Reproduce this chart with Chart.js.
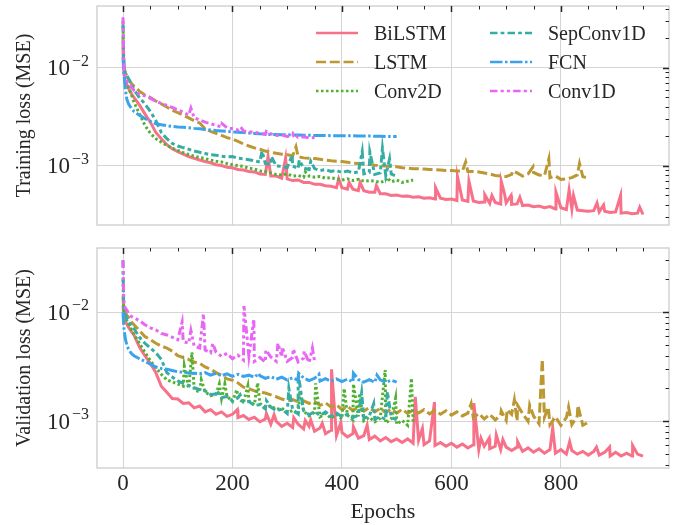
<!DOCTYPE html>
<html>
<head>
<meta charset="utf-8">
<script src="https://cdn.jsdelivr.net/npm/chart.js@4.4.1/dist/chart.umd.min.js"></script>
<style>
  body { margin: 0; background: #fff; }
  #wrap { position: relative; width: 683px; height: 525px; }
  #trainChart { position: absolute; left: 0; top: 0; }
  #valChart { position: absolute; left: 0; top: 237px; }
</style>
</head>
<body>
<div id="wrap">
  <canvas id="trainChart" width="683" height="237"></canvas>
  <canvas id="valChart" width="683" height="288"></canvas>
</div>
<script>
// loss curves per model, values below are in units of 1e-4
const UNIT = 1e-4;
const models = ['BiLSTM', 'LSTM', 'Conv2D', 'SepConv1D', 'FCN', 'Conv1D'];

// epochs at which the loss was logged: dense at the start, then every 10
const epochs = [0, 1, 2, 4, 7, 10, 15, 20, 30, 40];
for (let e = 50; e <= 950; e += 10) epochs.push(e);

const xTicks = [0, 200, 400, 600, 800];
const yTickPowers = [-2, -3];

// ---- training loss ----
const trainBiLSTM = [
  160, 110, 85, 75, 68, 62, 55, 50, 42, 34,
  28, 22, 19, 16.5, 15, 14, 13.2, 12.5, 12, 11.5,
  11.1, 10.8, 10.3, 10.1, 9.7, 9.6, 9.2, 9.1, 8.8, 8.7,
  8.3, 8.2, 7.9, 7.9, 7.5, 7.4, 7.1, 7.2, 6.8, 6.8,
  6.5, 6.5, 6.3, 6.2, 6.0, 6.0, 5.8, 5.8, 5.6, 5.6,
  5.4, 5.4, 5.2, 5.2, 5.0, 5.05, 4.9, 4.95, 4.8, 4.85,
  4.7, 4.75, 4.6, 4.7, 4.55, 4.6, 4.45, 4.5, 4.35, 4.4,
  4.25, 4.3, 4.15, 4.25, 4.1, 4.2, 4.05, 4.1, 3.95, 4.0,
  3.85, 3.9, 3.75, 3.85, 3.65, 3.75, 3.6, 3.65, 3.55, 3.5,
  3.45, 3.5, 3.4, 3.45, 3.35, 3.4, 3.3, 3.35, 3.25, 3.3, 3.2
];
const trainBiLSTMSpikes = [[265, 12.5], [297, 12], [394, 7.4], [413, 6.8], [433, 6.8], [463, 6.3],
  [571, 6.0], [611, 7.8], [632, 7.0], [661, 5.1], [674, 5.0], [691, 7.0], [697, 5.2], [709, 5.0],
  [725, 4.8], [791, 5.4], [815, 5.7], [823, 5.0], [866, 4.2], [878, 4.0], [909, 5.0], [944, 3.8]];

const trainLSTM = [
  200, 120, 100, 90, 84, 78, 70, 65, 58, 53,
  50, 46, 43, 40, 37, 35, 33, 31, 29, 27.5,
  24, 22.5, 21.5, 20.5, 19.5, 18.8, 17.8, 16.8, 16.0, 15.3,
  14.8, 14.2, 13.8, 13.5, 13.2, 13.0, 12.7, 12.4, 12.1, 12.0,
  11.9, 11.7, 11.5, 11.3, 11.2, 11.1, 10.9, 10.7, 10.6, 10.5,
  10.4, 10.2, 10.1, 10.0, 9.9, 9.8, 9.6, 9.5, 9.4, 9.4,
  9.3, 9.2, 9.2, 9.1, 9.0, 9.0, 8.9, 8.9, 8.8, 8.8,
  8.7, 8.5, 8.3, 8.0, 7.9, 7.8, 8.2, 8.5, 7.9, 8.3,
  8.6, 8.1, 8.0, 7.6, 7.9, 7.3, 7.4, 7.6, 8.1, 7.8,
  7.5
];
const trainLSTMSpikes = [[316, 15.7], [626, 11.0], [712, 8.9], [749, 9.8], [778, 11.8], [834, 10.6]];

const trainConv2D = [
  300, 130, 92, 80, 70, 63, 54, 45, 34, 26,
  21.5, 19, 17.5, 16.2, 15.2, 14.4, 13.7, 13.1, 12.6, 12.2,
  11.9, 11.5, 11.2, 11.0, 10.6, 10.3, 10.1, 9.9, 9.5, 9.3,
  8.9, 8.8, 8.5, 8.2, 8.1, 8.3, 7.9, 8.0, 7.7, 7.9,
  7.7, 7.8, 7.5, 7.6, 7.4, 7.2, 7.4, 7.1, 7.3, 7.0,
  7.1, 7.0, 6.8, 7.1, 6.9, 7.2, 6.8, 7.0, 7.2
];
const trainConv2DSpikes = [[333, 8.7], [482, 7.6]];

const trainSepConv1D = [
  280, 140, 100, 90, 84, 78, 68, 60, 50, 43,
  36, 29, 22, 19, 17, 16, 15.4, 14.8, 14.2, 13.8,
  13.4, 13.0, 12.9, 12.6, 12.4, 12.5, 12.0, 11.8, 11.6, 11.3,
  11.0, 10.6, 10.4, 10.0, 9.9, 9.6, 10.0, 9.4, 9.5, 9.2,
  9.4, 9.0, 9.2, 8.8, 9.0, 8.6, 8.9, 8.5, 8.7, 8.3,
  8.6, 8.2, 8.5, 8.0, 8.3, 7.8
];
const trainSepConv1DSpikes = [[254, 14.2], [271, 12.5], [309, 12.9], [322, 11.5], [343, 11.2],
  [437, 14.0], [451, 13.8], [474, 15.1], [487, 11.8]];

const trainFCN = [
  130, 100, 85, 62, 48, 43, 39, 36, 33, 30.5,
  28.5, 27, 26.3, 25.8, 25.3, 25.0, 24.8, 24.5, 24.2, 24.0,
  23.6, 23.3, 23.0, 22.8, 22.5, 22.3, 22.1, 21.9, 21.7, 21.5,
  21.3, 21.2, 21.0, 20.9, 20.8, 20.8, 20.7, 20.7, 20.6, 20.6,
  20.5, 20.5, 20.5, 20.4, 20.4, 20.3, 20.3, 20.3, 20.2, 20.2,
  20.2, 20.1, 20.1, 20.0, 20.0, 20.0
];
const trainFCNSpikes = [];

const trainConv1D = [
  330, 140, 95, 82, 74, 69, 64, 59, 54, 52,
  49, 46, 43.5, 41.5, 39.5, 37.5, 35.5, 33, 31, 29.5,
  28, 27, 26, 25, 24.5, 24, 23.3, 22.8, 22.4, 22.0,
  21.6, 21.0, 21.3, 20.5, 20.8, 20.0, 20.3, 19.6, 19.9, 19.3,
  19.5
];
const trainConv1DSpikes = [[124, 39], [181, 27], [215, 25], [262, 22.5], [311, 21.5]];

// ---- validation loss ----
const valBiLSTM = [
  115, 100, 92, 84, 78, 73, 67, 62, 48, 40,
  34, 28, 21, 18.5, 16.2, 16.0, 14.6, 14.8, 13.3, 13.8,
  12.2, 12.8, 11.6, 12.2, 11.1, 11.6, 10.8, 11.3, 10.4, 10.9,
  9.9, 10.5, 9.4, 10.0, 9.0, 9.6, 8.8, 9.4, 8.5, 9.0,
  8.1, 8.7, 7.7, 8.3, 7.4, 7.9, 7.2, 7.7, 7.0, 7.4,
  6.8, 7.3, 6.6, 7.1, 6.5, 6.9, 6.4, 6.9, 6.3, 6.7,
  6.1, 6.6, 6.0, 6.4, 5.9, 6.3, 5.8, 6.2, 5.7, 6.1,
  5.5, 5.9, 5.6, 5.9, 5.5, 5.8, 5.4, 5.8, 5.3, 5.7,
  5.2, 5.6, 5.1, 5.5, 5.1, 5.5, 5.0, 5.4, 5.0, 5.3,
  4.9, 5.3, 4.9, 5.2, 4.8, 5.2, 4.8, 5.1, 4.8, 5.0, 4.8
];
const valBiLSTMSpikes = [[209, 12.8], [262, 11.8], [276, 11.5], [312, 10.8], [333, 10.2], [343, 10.3],
  [364, 9.6], [381, 30], [398, 9.8], [421, 8.9], [446, 9.2], [534, 16.8], [547, 8.6], [569, 15],
  [641, 14.7], [654, 7.0], [669, 7.0], [682, 7.5], [694, 6.8], [721, 6.5], [785, 8.7], [816, 6.5],
  [865, 5.8], [889, 5.8], [931, 6.0]];

const valLSTM = [
  140, 115, 105, 98, 94, 90, 82, 77, 68, 60,
  56, 52, 49, 47, 44, 40, 38.5, 37, 35, 34,
  31.5, 30, 28, 26.5, 24.5, 23.8, 22.5, 20.6, 20.0, 19.0,
  18.5, 18.2, 17.5, 16.8, 16.0, 15.5, 15.8, 15.1, 15.4, 14.6,
  15.2, 14.0, 14.8, 13.5, 14.2, 12.8, 13.7, 12.6, 13.5, 12.4,
  13.4, 12.2, 13.2, 12.0, 13.0, 11.9, 12.9, 11.8, 12.7, 11.9,
  12.8, 11.7, 12.6, 11.6, 12.5, 11.4, 12.2, 11.2, 11.9, 10.8,
  11.8, 10.5, 11.6, 10.3, 11.4, 10.2, 11.6, 10.1, 11.8, 10.0,
  11.2, 9.5, 10.9, 9.3, 11.0, 9.2, 10.8, 9.3, 11.2, 9.2,
  9.8
];
const valLSTMSpikes = [[636, 14.5], [691, 12.5], [702, 12.8], [715, 15.7], [721, 14.0], [743, 14.1],
  [766, 37], [777, 13.5], [814, 13.5], [831, 14.0]];

const valConv2D = [
  200, 120, 100, 90, 84, 78, 70, 63, 52, 43,
  36, 31, 27, 24, 23, 22, 21, 20, 19.4, 18.6,
  18.6, 17.2, 17.8, 16.2, 17.0, 15.2, 16.4, 14.8, 15.4, 14.2,
  14.6, 13.4, 13.9, 12.9, 13.2, 12.0, 12.6, 11.6, 12.4, 11.2,
  12.1, 11.0, 11.8, 10.7, 11.6, 10.5, 11.4, 10.3, 11.1, 10.1,
  10.9, 9.9, 10.7, 9.6, 10.5, 9.4, 10.2, 9.2, 9.8
];
const valConv2DSpikes = [[112, 32], [126, 43], [143, 24], [176, 22], [186, 22], [208, 19.5], [228, 21],
  [246, 22.5], [323, 19], [352, 22.3], [404, 20], [421, 22], [432, 18], [479, 29.6], [498, 16.3],
  [527, 24.8]];

const valSepConv1D = [
  300, 130, 105, 95, 88, 82, 76, 71, 59, 52,
  47, 42.5, 37, 28, 25.5, 23.5, 22.3, 21.3, 20.4, 19.5,
  19.0, 17.6, 17.8, 16.5, 16.9, 15.4, 16.4, 15.0, 15.2, 14.0,
  14.2, 13.0, 13.5, 12.5, 12.9, 11.8, 12.8, 11.7, 12.5, 11.5,
  12.3, 11.3, 12.2, 11.1, 11.9, 11.0, 11.6, 10.8, 11.4, 10.7,
  11.2, 10.5, 11.0, 10.4, 10.9, 10.3
];
const valSepConv1DSpikes = [[172, 19], [214, 17.5], [262, 15.5], [303, 20], [320, 27.6], [436, 18.3],
  [458, 14.5], [483, 18.7]];

const valFCN = [
  100, 80, 70, 58, 50, 46, 42, 40, 37.5, 35.5,
  33.5, 31.5, 30.5, 30.0, 29.2, 28.5, 28.2, 27.8, 27.6, 27.3,
  28.0, 26.5, 27.6, 26.2, 27.3, 25.9, 27.0, 25.8, 26.5, 25.3,
  26.2, 24.8, 25.7, 24.3, 25.4, 23.9, 25.1, 23.8, 25.0, 23.6,
  24.8, 23.4, 24.6, 23.3, 24.5, 23.1, 24.4, 23.0, 24.2, 22.9,
  24.1, 22.8, 24.0, 22.8, 23.8, 22.9
];
const valFCNSpikes = [[248, 27.5], [321, 27.6], [358, 27], [421, 27.6], [464, 26.5]];

const valConv1D = [
  300, 150, 120, 110, 105, 98, 92, 89, 84, 77,
  72, 69, 64, 62, 59, 56, 54, 52, 49, 47,
  45, 42.5, 43, 39.5, 42, 37.5, 40.5, 36.5, 39.5, 35.5,
  38.5, 35, 39, 35.5, 39, 35.5, 38.5, 35, 38, 34.5,
  35.5
];
const valConv1DSpikes = [[108, 81], [124, 68], [147, 97], [164, 52], [221, 114], [239, 87], [261, 45],
  [283, 52], [291, 48], [311, 46], [331, 44], [346, 47]];

// seaborn husl colours and dash specs (in line widths)
const colors = ['#f77189', '#bb9832', '#50b131', '#36ada4', '#3ba3ec', '#e866f4'];
const LW = 2.5;
const DATA_LW = 3;
const dashes = [[], [4, 1.5], [1, 1], [3, 1.25, 1.5, 1.25], [5, 1, 1, 1], [3, 1.25, 1.25, 1.25, 1.25, 1.25]];
const FONT = '"Liberation Serif", "Times New Roman", serif';
const TEXT = '#262626';

function series(values, spikes) {
  const pts = values.map((v, i) => ({ x: epochs[i], y: v * UNIT }));
  spikes.forEach(([e, v]) => pts.push({ x: e, y: v * UNIT }));
  return pts.sort((a, b) => a.x - b.x);
}

// box around the axes plus inward ticks on top and right
const frameTicks = {
  id: 'frameTicks',
  afterDatasetsDraw(chart) {
    const { ctx, chartArea: a, scales: { x, y } } = chart;
    ctx.save();
    ctx.strokeStyle = '#cccccc';
    ctx.lineWidth = 1.3;
    ctx.strokeRect(a.left, a.top, a.right - a.left, a.bottom - a.top);
    ctx.strokeStyle = '#262626';
    for (let e = 0; e <= 950; e += 50) {
      const px = Math.round(x.getPixelForValue(e)) + 0.5;
      const major = e % 200 === 0;
      ctx.lineWidth = major ? 1.5 : 1;
      ctx.beginPath();
      ctx.moveTo(px, a.top);
      ctx.lineTo(px, a.top + (major ? 6 : 3.5));
      ctx.stroke();
    }
    for (let p = -4; p <= -1; p++) {
      for (let m = 1; m <= 9; m++) {
        const v = m * Math.pow(10, p);
        if (v < y.min || v > y.max) continue;
        const py = Math.round(y.getPixelForValue(v)) + 0.5;
        ctx.lineWidth = m === 1 ? 1.5 : 1;
        ctx.beginPath();
        ctx.moveTo(a.right - (m === 1 ? 6 : 3.5), py);
        ctx.lineTo(a.right, py);
        ctx.stroke();
      }
    }
    ctx.restore();
  }
};

// 10^-2 style labels on the log axis
const decadeLabels = {
  id: 'decadeLabels',
  afterDraw(chart) {
    const { ctx, chartArea: a, scales: { y } } = chart;
    const right = a.left - 8;
    ctx.save();
    ctx.fillStyle = TEXT;
    ctx.textAlign = 'right';
    ctx.textBaseline = 'alphabetic';
    yTickPowers.forEach(p => {
      const py = y.getPixelForValue(Math.pow(10, p));
      const exp = '\u2212' + Math.abs(p);
      ctx.font = '16px ' + FONT;
      const ew = ctx.measureText(exp).width;
      ctx.fillText(exp, right, py - 2);
      ctx.font = '23px ' + FONT;
      ctx.fillText('10', right - ew - 2, py + 7.5);
    });
    ctx.restore();
  }
};

const legendBox = {
  id: 'legendBox',
  afterDatasetsDraw(chart) {
    const ctx = chart.ctx;
    ctx.save();
    ctx.font = '20px ' + FONT;
    ctx.fillStyle = TEXT;
    ctx.textBaseline = 'alphabetic';
    models.forEach((name, i) => {
      const x0 = i < 3 ? 316 : 490;
      const y0 = 33 + (i % 3) * 29;
      ctx.strokeStyle = colors[i];
      ctx.lineWidth = LW;
      ctx.setLineDash(dashes[i].map(d => d * LW));
      ctx.beginPath();
      ctx.moveTo(x0, y0);
      ctx.lineTo(x0 + 42, y0);
      ctx.stroke();
      ctx.setLineDash([]);
      ctx.fillText(name, x0 + 58, y0 + 7);
    });
    ctx.restore();
  }
};

function makeChart(id, data, yMin, yMax, yTitle, bottomAxis, padTop, withLegend) {
  const plugins = [frameTicks, decadeLabels];
  if (withLegend) plugins.push(legendBox);
  return new Chart(document.getElementById(id), {
    type: 'line',
    data: {
      datasets: models.map((name, i) => ({
        label: name,
        data: data[i],
        borderColor: colors[i],
        borderWidth: DATA_LW,
        borderDash: dashes[i].map(d => d * LW),
        pointRadius: 0,
        tension: 0,
        fill: false,
        order: models.length - i
      }))
    },
    options: {
      responsive: false,
      animation: false,
      events: [],
      layout: { padding: { top: padTop, right: 14, bottom: 0, left: 0 } },
      plugins: { legend: { display: false }, tooltip: { enabled: false } },
      scales: {
        x: {
          type: 'linear',
          min: -47.5,
          max: 997.5,
          bounds: 'data',
          afterBuildTicks: s => { s.ticks = xTicks.map(v => ({ value: v })); },
          afterFit: s => { s.height = bottomAxis; },
          grid: { color: '#d4d4d4', lineWidth: 1, drawTicks: false },
          border: { display: false },
          ticks: {
            display: bottomAxis > 20,
            padding: 2,
            color: TEXT,
            font: { family: FONT, size: 23 }
          },
          title: {
            display: bottomAxis > 20,
            text: 'Epochs',
            color: TEXT,
            padding: { top: 0, bottom: 0 },
            font: { family: FONT, size: 22 }
          }
        },
        y: {
          type: 'logarithmic',
          min: yMin,
          max: yMax,
          bounds: 'data',
          afterBuildTicks: s => { s.ticks = yTickPowers.map(p => ({ value: Math.pow(10, p) })); },
          afterFit: s => { s.width = 97; },
          grid: { color: '#d4d4d4', lineWidth: 1, drawTicks: false },
          border: { display: false },
          ticks: { display: false },
          title: {
            display: true,
            text: yTitle,
            color: TEXT,
            padding: { top: 13, bottom: 0 },
            font: { family: FONT, size: 20 }
          }
        }
      }
    },
    plugins: plugins
  });
}

const trainData = [
  series(trainBiLSTM, trainBiLSTMSpikes),
  series(trainLSTM, trainLSTMSpikes),
  series(trainConv2D, trainConv2DSpikes),
  series(trainSepConv1D, trainSepConv1DSpikes),
  series(trainFCN, trainFCNSpikes),
  series(trainConv1D, trainConv1DSpikes)
];
const valData = [
  series(valBiLSTM, valBiLSTMSpikes),
  series(valLSTM, valLSTMSpikes),
  series(valConv2D, valConv2DSpikes),
  series(valSepConv1D, valSepConv1DSpikes),
  series(valFCN, valFCNSpikes),
  series(valConv1D, valConv1DSpikes)
];

makeChart('trainChart', trainData, 2.5e-4, 0.0429, 'Training loss (MSE)', 12, 6, true);
makeChart('valChart', valData, 3.73e-4, 0.0389, 'Validation loss (MSE)', 57, 11, false);
</script>
</body>
</html>
